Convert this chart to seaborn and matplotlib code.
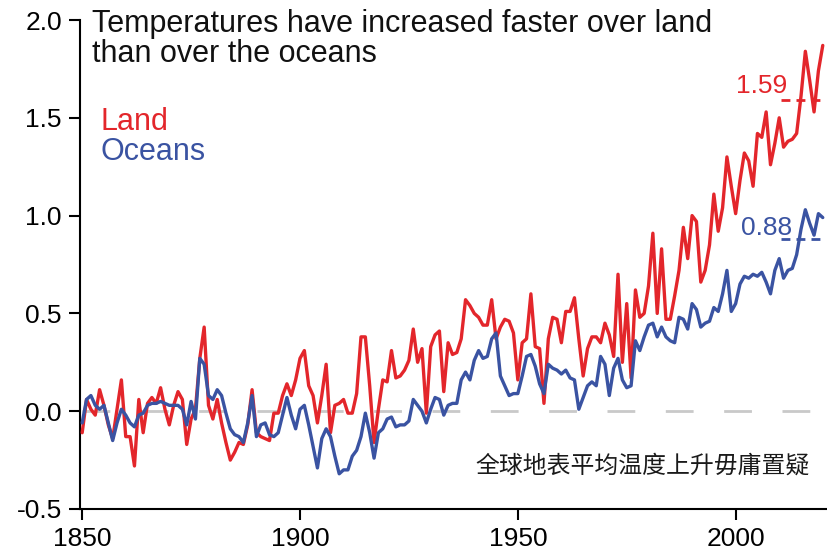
import matplotlib
matplotlib.use("Agg")
import matplotlib.pyplot as plt
import seaborn as sns
import pandas as pd

# Annual mean surface temperature change relative to 1850-1900 (°C)
years = list(range(1850, 2021))

land = [
    -0.11, 0.06, 0.01, -0.02, 0.11, 0.03, -0.07, -0.14, 0.01, 0.16,   # 1850s
    -0.13, -0.13, -0.28, 0.06, -0.11, 0.04, 0.07, 0.04, 0.12, 0.01,   # 1860s
    -0.07, 0.03, 0.10, 0.06, -0.17, -0.04, 0.01, 0.27, 0.43, 0.03,    # 1870s
    -0.04, 0.06, -0.06, -0.16, -0.25, -0.21, -0.16, -0.17, -0.07, 0.11,  # 1880s
    -0.11, -0.13, -0.14, -0.15, -0.01, -0.01, 0.08, 0.14, 0.08, 0.16,  # 1890s
    0.27, 0.31, 0.13, 0.08, -0.06, 0.08, 0.24, -0.11, 0.03, 0.04,     # 1900s
    0.06, -0.01, -0.01, 0.09, 0.38, 0.38, 0.13, -0.16, 0.01, 0.16,    # 1910s
    0.15, 0.31, 0.17, 0.18, 0.21, 0.26, 0.42, 0.25, 0.32, -0.01,      # 1920s
    0.33, 0.39, 0.41, 0.10, 0.35, 0.29, 0.30, 0.37, 0.57, 0.54,       # 1930s
    0.50, 0.48, 0.44, 0.44, 0.57, 0.37, 0.43, 0.47, 0.46, 0.40,       # 1940s
    0.16, 0.35, 0.37, 0.60, 0.33, 0.32, 0.04, 0.37, 0.48, 0.47,       # 1950s
    0.35, 0.51, 0.51, 0.58, 0.37, 0.18, 0.32, 0.38, 0.38, 0.35,       # 1960s
    0.45, 0.39, 0.28, 0.70, 0.25, 0.55, 0.17, 0.62, 0.48, 0.50,       # 1970s
    0.64, 0.91, 0.50, 0.83, 0.47, 0.47, 0.59, 0.72, 0.94, 0.78,       # 1980s
    1.00, 0.97, 0.66, 0.72, 0.85, 1.11, 0.92, 1.04, 1.30, 1.15,       # 1990s
    1.01, 1.18, 1.32, 1.28, 1.15, 1.42, 1.40, 1.53, 1.26, 1.37,       # 2000s
    1.50, 1.35, 1.38, 1.39, 1.42, 1.61, 1.84, 1.69, 1.53, 1.74,       # 2010s
    1.87,                                                             # 2020
]

oceans = [
    -0.06, 0.06, 0.08, 0.03, 0.01, 0.03, -0.06, -0.15, -0.06, 0.01,   # 1850s
    -0.02, -0.06, -0.08, -0.02, -0.01, 0.03, 0.04, 0.04, 0.05, 0.04,  # 1860s
    0.03, 0.03, 0.03, 0.01, -0.07, 0.05, -0.04, 0.27, 0.24, 0.08,     # 1870s
    0.06, 0.11, 0.08, -0.01, -0.09, -0.12, -0.13, -0.16, -0.06, 0.08,  # 1880s
    -0.13, -0.07, -0.06, -0.12, -0.13, -0.11, -0.02, 0.07, -0.02, -0.09,  # 1890s
    0.01, 0.03, -0.07, -0.18, -0.29, -0.14, -0.09, -0.13, -0.23, -0.32,  # 1900s
    -0.30, -0.30, -0.23, -0.20, -0.13, -0.01, -0.11, -0.24, -0.11, -0.09,  # 1910s
    -0.04, -0.03, -0.08, -0.07, -0.07, -0.05, 0.06, 0.03, 0.00, -0.06,  # 1920s
    0.01, 0.07, 0.06, -0.02, 0.03, 0.04, 0.04, 0.16, 0.20, 0.16,      # 1930s
    0.26, 0.31, 0.27, 0.28, 0.37, 0.40, 0.18, 0.13, 0.08, 0.09,       # 1940s
    0.09, 0.18, 0.28, 0.29, 0.23, 0.14, 0.09, 0.24, 0.22, 0.21,       # 1950s
    0.19, 0.21, 0.17, 0.16, 0.01, 0.07, 0.13, 0.15, 0.13, 0.28,       # 1960s
    0.24, 0.08, 0.22, 0.27, 0.16, 0.12, 0.13, 0.36, 0.31, 0.38,       # 1970s
    0.44, 0.45, 0.38, 0.43, 0.38, 0.36, 0.35, 0.48, 0.47, 0.42,       # 1980s
    0.55, 0.52, 0.43, 0.45, 0.46, 0.53, 0.51, 0.60, 0.72, 0.51,       # 1990s
    0.55, 0.65, 0.69, 0.68, 0.70, 0.69, 0.71, 0.66, 0.60, 0.72,       # 2000s
    0.78, 0.68, 0.72, 0.73, 0.80, 0.93, 1.03, 0.96, 0.90, 1.01,       # 2010s
    0.99,                                                             # 2020
]

regions = ["Land", "Oceans"]
decade_means = [1.59, 0.88]          # 2011-2020 averages
decade_span = (2010.5, 2020.5)

y_ticks = [-0.5, 0.0, 0.5, 1.0, 1.5, 2.0]
x_ticks = [1850, 1900, 1950, 2000]

title_lines = ["Temperatures have increased faster over land",
               "than over the oceans"]
caption = "全球地表平均温度上升毋庸置疑"

RED = "#e3262b"
BLUE = "#3a53a2"
colors = {"Land": RED, "Oceans": BLUE}

sns.set_style("ticks")
plt.rcParams["font.family"] = ["Liberation Sans", "Noto Sans CJK SC", "DejaVu Sans"]

df = pd.DataFrame({
    "year": years + years,
    "anomaly": land + oceans,
    "region": ["Land"] * len(years) + ["Oceans"] * len(years),
})

W, H = 828, 552
fig = plt.figure(figsize=(W / 100, H / 100), dpi=100)
ax = fig.add_axes([80 / W, 1 - 509 / H, 748 / W, 489 / H])

# zero reference line
ax.hlines(0, 1850, 2017, colors="#c9c9c9", linewidth=2,
          linestyles=(0, (10, 11)), zorder=1)

sns.lineplot(data=df, x="year", y="anomaly", hue="region",
             hue_order=regions, palette=colors, linewidth=2.4,
             legend=False, ax=ax, zorder=3)

# decade-average markers with their values
label_pos = {"Land": (2011.8, 1.628), "Oceans": (2013.0, 0.903)}
for region, mean in zip(regions, decade_means):
    c = colors[region]
    ax.hlines(mean, *decade_span, colors=c, linewidth=2,
              linestyles=(0, (3.2, 2.2)), zorder=4)
    lx, ly = label_pos[region]
    ax.text(lx, ly, f"{mean:.2f}", color=c, fontsize=19,
            ha="right", va="baseline")

ax.set_xlim(1849.5, 2021.2)
ax.set_ylim(-0.5, 2.0)
ax.set_xticks(x_ticks)
ax.set_yticks(y_ticks)
ax.set_yticklabels([f"{v:.1f}" for v in y_ticks])
ax.set_xlabel("")
ax.set_ylabel("")
ax.tick_params(direction="out", length=8, width=1.5, labelsize=19,
               colors="black", pad=5)
sns.despine(ax=ax)
for side in ("left", "bottom"):
    ax.spines[side].set_linewidth(1.5)
    ax.spines[side].set_color("black")

# two-line title, one text per line
for line, base in zip(title_lines, [32, 62]):
    fig.text(92 / W, 1 - base / H, line, fontsize=22, color="#111111",
             ha="left", va="baseline")

# colour-keyed series names
for region, base in zip(regions, [130, 160]):
    fig.text(101 / W, 1 - base / H, region, color=colors[region],
             fontsize=22, ha="left", va="baseline")

fig.text(810 / W, 1 - 466 / H, caption, fontsize=17.2, color="#1a1a1a",
         ha="right", va="center",
         family=["Noto Sans CJK SC", "DejaVu Sans"])

fig.savefig("out.png", dpi=100)
